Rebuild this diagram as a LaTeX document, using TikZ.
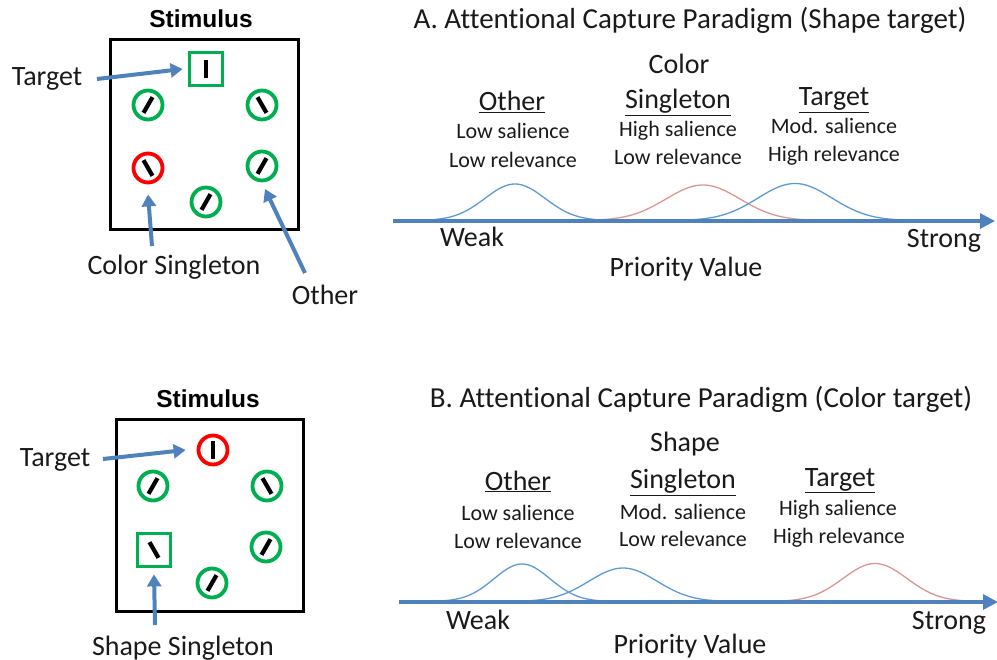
\documentclass[tikz,border=0pt]{standalone}
\usepackage{fontspec}
\setmainfont{Carlito}[Ligatures={NoCommon}]
\newfontfamily\stimfont{Liberation Sans}
\usetikzlibrary{arrows.meta,calc}
\definecolor{arrblue}{HTML}{4F81BD}
\definecolor{curveblue}{HTML}{5B9BD5}
\definecolor{curvered}{HTML}{D99694}
\definecolor{stimgreen}{HTML}{00B050}
\definecolor{stimred}{HTML}{FF0000}
\definecolor{txt}{HTML}{1A1A1A}
\tikzset{
  stimframe/.style={draw=black, line width=3pt},
  ring/.style={circle, draw=#1, line width=3.8pt, minimum size=29pt, inner sep=0pt},
  sqbox/.style={rectangle, draw=stimgreen, line width=3.8pt, minimum size=33pt, inner sep=0pt},
  barline/.style={draw=black, line width=4.2pt},
  pointer/.style={draw=arrblue, line width=4pt, -{Triangle[length=12pt,width=14pt]}},
  axisline/.style={draw=arrblue, line width=3.2pt, -{Triangle[length=15pt,width=15pt]}},
  gblue/.style={draw=curveblue, line width=1.3pt},
  gred/.style={draw=curvered, line width=1.3pt},
  lab/.style={font=\fontsize{28}{34}\selectfont, text=txt, anchor=base, inner sep=0pt},
  small/.style={font=\fontsize{22}{29}\selectfont, text=txt, anchor=base, inner sep=0pt},
  ttl/.style={font=\fontsize{29}{35}\selectfont, text=txt, anchor=base, inner sep=0pt},
  stim/.style={font=\stimfont\bfseries\fontsize{24.5}{28}\selectfont, text=black, anchor=base, inner sep=0pt},
}
\begin{document}
\begin{tikzpicture}[x=1pt,y=-1pt]
\useasboundingbox (0,0) rectangle (997,660);

% ---------------- Panel A: stimulus ----------------
\node[stim] (stimA) at (201,28) {Stimulus};
\draw[stimframe] (110,40) rectangle (298,230);
\node[sqbox] (sqA) at (206,69) {};
\node[ring=stimgreen] (a1) at (148,105) {};
\node[ring=stimgreen] (a2) at (262,105) {};
\node[ring=stimred]   (a3) at (148,168) {};
\node[ring=stimgreen] (a4) at (262,166) {};
\node[ring=stimgreen] (a5) at (206,202) {};
\draw[barline] ($(sqA)+(0,-9)$) -- ($(sqA)+(0,9)$);
\draw[barline] ($(a1)+(-4.5,7.8)$) -- ($(a1)+(4.5,-7.8)$);
\draw[barline] ($(a2)+(-4.5,-7.8)$) -- ($(a2)+(4.5,7.8)$);
\draw[barline] ($(a3)+(-4.5,-7.8)$) -- ($(a3)+(4.5,7.8)$);
\draw[barline] ($(a4)+(-4.5,7.8)$) -- ($(a4)+(4.5,-7.8)$);
\draw[barline] ($(a5)+(-4.5,7.8)$) -- ($(a5)+(4.5,-7.8)$);

\node[lab] (tgtA) at (47,86) {Target};
\node[lab] (csA) at (174,275) {Color Singleton};
\node[lab] (othA) at (325,305) {Other};
\coordinate (tgtAtail) at (97,79);
\coordinate (csAtail) at (152,246);
\coordinate (othAtail) at (305,273);
\draw[pointer] (tgtAtail) -- ($(sqA.west)+(-5,0)$);
\draw[pointer] (csAtail) -- ($(a3.south)+(0,10)$);
\draw[pointer] (othAtail) -- (265,189);

% ---------------- Panel A: priority ----------------
\node[ttl] (titleA) at (690,29) {A. Attentional Capture Paradigm (Shape target)};
\node[lab] (colA) at (679,74) {Color};
\node[lab] (oA) at (512,111) {\underline{Other}};
\node[lab] (sA) at (678,109) {\underline{Singleton}};
\node[lab] (tA) at (834,106) {\underline{Target}};
\node[small] (oA1) at (513,139) {Low salience};
\node[small] (oA2) at (513,168) {Low relevance};
\node[small] (sA1) at (678,137) {High salience};
\node[small] (sA2) at (678,165) {Low relevance};
\node[small] (tA1) at (834,134) {Mod. salience};
\node[small] (tA2) at (834,162) {High relevance};

\draw[gblue] plot[domain=435:595, samples=80] (\x, {220.5-36.5*exp(-((\x-515)/30)^2/2)});
\draw[gred]  plot[domain=600:820, samples=90] (\x, {220.5-35.5*exp(-((\x-703)/37)^2/2)});
\draw[gblue] plot[domain=690:900, samples=90] (\x, {220.5-37*exp(-((\x-795)/37)^2/2)});
\coordinate (axAstart) at (393,221);
\coordinate (axAend) at (995,221);
\draw[axisline] (axAstart) -- (axAend);
\node[lab] (weakA) at (472,247) {Weak};
\node[lab] (strA) at (944,248) {Strong};
\node[lab] (pvA) at (686,277) {Priority Value};

% ---------------- Panel B: stimulus ----------------
\node[stim] (stimB) at (208,408) {Stimulus};
\draw[stimframe] (116,420) rectangle (303,611);
\node[ring=stimred]   (b0) at (213,450) {};
\node[ring=stimgreen] (b1) at (153,486) {};
\node[ring=stimgreen] (b2) at (267,486) {};
\node[sqbox]          (sqB) at (154,550) {};
\node[ring=stimgreen] (b4) at (266,547) {};
\node[ring=stimgreen] (b5) at (212,583) {};
\draw[barline] ($(b0)+(0,-9)$) -- ($(b0)+(0,9)$);
\draw[barline] ($(b1)+(-4.5,7.8)$) -- ($(b1)+(4.5,-7.8)$);
\draw[barline] ($(b2)+(-4.5,-7.8)$) -- ($(b2)+(4.5,7.8)$);
\draw[barline] ($(sqB)+(-4.5,-7.8)$) -- ($(sqB)+(4.5,7.8)$);
\draw[barline] ($(b4)+(-4.5,7.8)$) -- ($(b4)+(4.5,-7.8)$);
\draw[barline] ($(b5)+(-4.5,7.8)$) -- ($(b5)+(4.5,-7.8)$);

\node[lab] (tgtB) at (55,467) {Target};
\node[lab] (ssB) at (183,655) {Shape Singleton};
\coordinate (tgtBtail) at (103,459);
\coordinate (ssBtail) at (155,625);
\draw[pointer] (tgtBtail) -- ($(b0.west)+(-11,0)$);
\draw[pointer] (ssBtail) -- ($(sqB.south)+(0,6)$);

% ---------------- Panel B: priority ----------------
\node[ttl] (titleB) at (701,408) {B. Attentional Capture Paradigm (Color target)};
\node[lab] (shB) at (685,452) {Shape};
\node[lab] (oB) at (518,490) {\underline{Other}};
\node[lab] (sB) at (683,489) {\underline{Singleton}};
\node[lab] (tB) at (840,486) {\underline{Target}};
\node[small] (oB1) at (518,520) {Low salience};
\node[small] (oB2) at (518,548) {Low relevance};
\node[small] (sB1) at (683,519) {Mod. salience};
\node[small] (sB2) at (683,547) {Low relevance};
\node[small] (tB1) at (838,515) {High salience};
\node[small] (tB2) at (839,543) {High relevance};

\draw[gblue] plot[domain=440:600, samples=80] (\x, {601.5-37.5*exp(-((\x-522)/28)^2/2)});
\draw[gblue] plot[domain=505:740, samples=90] (\x, {601.5-33.5*exp(-((\x-623)/34)^2/2)});
\draw[gred]  plot[domain=755:990, samples=90] (\x, {601.5-38*exp(-((\x-875)/32)^2/2)});
\coordinate (axBstart) at (399,602);
\coordinate (axBend) at (998,602);
\draw[axisline] (axBstart) -- (axBend);
\node[lab] (weakB) at (478,629) {Weak};
\node[lab] (strB) at (949,629) {Strong};
\node[lab] (pvB) at (690,653) {Priority Value};
\end{tikzpicture}
\end{document}
